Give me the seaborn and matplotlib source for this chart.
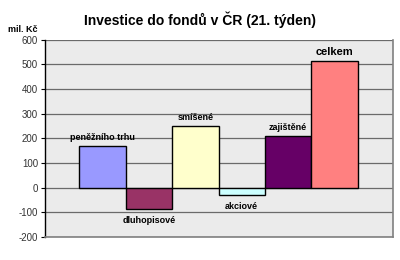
import matplotlib
matplotlib.use("Agg")
import matplotlib.pyplot as plt
import seaborn as sns
import pandas as pd

categories = ["peněžního trhu", "dluhopisové", "smíšené", "akciové", "zajištěné", "celkem"]
values = [168, -85, 249, -31, 208, 513]
colors = ["#9999FF", "#993366", "#FFFFCC", "#CCFFFF", "#660066", "#FF8080"]
yticks = [-200, -100, 0, 100, 200, 300, 400, 500, 600]

sns.set_theme(style="white")
plt.rcParams['font.family'] = ['Liberation Sans', 'DejaVu Sans']
plt.rcParams['text.color'] = 'black'

df = pd.DataFrame({"kat": categories, "hodnota": values})

fig = plt.figure(figsize=(4, 2.6), dpi=100)
ax = fig.add_axes([45/400, (260-237)/260, 348/400, (237-39.6)/260])
ax.set_facecolor("#ebebeb")

sns.barplot(data=df, x="kat", y="hodnota", hue="kat", palette=colors,
            saturation=1, width=1.0, edgecolor="black", linewidth=1.0,
            legend=False, ax=ax, zorder=3)

ax.set_ylim(-200, 600)
ax.set_xlim(-0.5 - 0.74, 5.5 + 0.76)
ax.set_yticks(yticks)
ax.set_yticklabels([str(t) for t in yticks], fontsize=7, color="#333333")
ax.set_xticks([])
ax.set_xlabel("")
ax.set_ylabel("")
ax.tick_params(axis="y", length=3, width=0.8, color="black", pad=2, left=True)
for t in yticks:
    ax.axhline(t, color="#6a6a6a", linewidth=0.9, zorder=1)

ax.spines["top"].set_visible(False)
ax.spines["left"].set_color("black")
ax.spines["left"].set_linewidth(1.0)
ax.spines["right"].set_color("#808080")
ax.spines["bottom"].set_color("#808080")
ax.spines["right"].set_linewidth(1.2)
ax.spines["bottom"].set_linewidth(1.2)

for i, (c, v) in enumerate(zip(categories, values)):
    fs = 8 if c == "celkem" else 6.5
    if v >= 0:
        ax.text(i, v + 18, c, ha="center", va="bottom", fontsize=fs,
                fontweight="bold", color="black", zorder=4)
    else:
        ax.text(i, v - 28, c, ha="center", va="top", fontsize=fs,
                fontweight="bold", color="black", zorder=4)

fig.text(0.5, 1 - 20/260, "Investice do fondů v ČR (21. týden)", ha="center",
         va="center", fontsize=10, fontweight="bold", color="black")
fig.text(8/400, 1 - 29/260, "mil. Kč", ha="left", va="center", fontsize=6.5,
         fontweight="bold", color="black")

fig.savefig("out.png", dpi=100)
